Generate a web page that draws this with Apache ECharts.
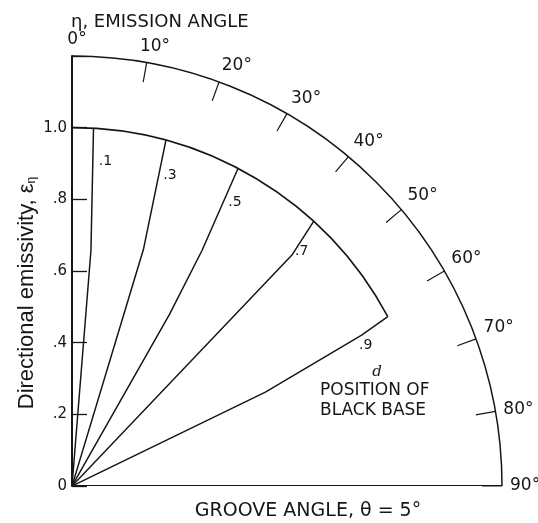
<!DOCTYPE html>
<html>
<head>
<meta charset="utf-8">
<script src="https://cdn.jsdelivr.net/npm/echarts@6/dist/echarts.min.js"></script>
<style>
  html, body { margin: 0; padding: 0; background: #ffffff; }
  #chart { width: 538px; height: 523px; }
</style>
</head>
<body>
<div id="chart"></div>
<script>
// Emission angle (degrees) marked on the outer arc
const emissionAngles = [0, 10, 20, 30, 40, 50, 60, 70, 80, 90];
// Directional emissivity ticks along the vertical axis
const emissivityTicks = [0, 0.2, 0.4, 0.6, 0.8, 1.0, 1.2];
const emissivityLabels = ['0', '.2', '.4', '.6', '.8', '1.0', ''];

// Black-body envelope: emissivity 1.0 from normal out to the cut-off angle
const envelopeEmissivity = 1.0;
const envelopeFrom = 0;
const envelopeTo = 61.8;

// Emissivity lines for each position d of the black base: [emissivity, emission angle]
const dNames = ['.1', '.3', '.5', '.7', '.9'];
const dLine1 = [[0, 4.6], [0.66, 4.6], [1.0, 3.44]];
const dLine3 = [[0, 16.8], [0.69, 16.8], [1.0, 15.2]];
const dLine5 = [[0, 29.8], [0.55, 29.6], [0.75, 28.9], [1.0, 27.6]];
const dLine7 = [[0, 44.2], [0.89, 43.6], [1.0, 42.4]];
const dLine9 = [[0, 64.5], [0.6, 64.1], [0.91, 62.5], [1.0, 61.8]];
const dLines = [dLine1, dLine3, dLine5, dLine7, dLine9];
// where each d label sits relative to the top end of its line
const dLabelOffsets = [[12, 33], [4, 35], [-3, 34], [-12, 30], [-22, 29]];

const ink = '#161616';
const LETTER = '"DejaVu Sans", sans-serif';

const chart = echarts.init(document.getElementById('chart'), null, { renderer: 'canvas' });

const dSeries = dLines.map((pts, i) => ({
  type: 'line',
  coordinateSystem: 'polar',
  symbol: 'circle',
  symbolSize: 0,
  showSymbol: true,
  silent: true,
  lineStyle: { color: ink, width: 1.5 },
  itemStyle: { color: ink },
  label: { show: false },
  data: pts.map((p, j) => j === pts.length - 1
    ? {
        value: p,
        label: {
          show: true,
          formatter: dNames[i],
          position: 'inside',
          offset: dLabelOffsets[i],
          color: ink,
          fontFamily: LETTER,
          fontSize: 14
        }
      }
    : p)
}));

chart.setOption({
  animation: false,
  backgroundColor: '#ffffff',
  title: {
    text: 'η, EMISSION ANGLE',
    left: 66,
    top: 8,
    textStyle: { color: ink, fontFamily: LETTER, fontSize: 18, fontWeight: 'normal' }
  },
  polar: { center: [72, 486], radius: 430 },
  angleAxis: {
    type: 'value',
    min: 0,
    max: 90,
    interval: 10,
    startAngle: 90,
    endAngle: 0,
    clockwise: true,
    axisLine: { show: true, lineStyle: { color: ink, width: 1.5 } },
    axisTick: { show: true, inside: true, length: 20, lineStyle: { color: ink, width: 1.2 } },
    axisLabel: {
      show: true,
      margin: 8,
      color: ink,
      fontFamily: LETTER,
      fontSize: 17,
      formatter: v => {
        if (!emissionAngles.includes(v)) return '';
        if (v === 0) return '{p0|0°}';
        if (v === 10) return '{p10|10°}';
        return v + '°';
      },
      rich: {
        p0: { fontFamily: LETTER, fontSize: 17, color: ink, padding: [0, 0, 0, 10] },
        p10: { fontFamily: LETTER, fontSize: 17, color: ink, padding: [0, 0, 0, 14] }
      }
    },
    splitLine: { show: false }
  },
  radiusAxis: {
    type: 'value',
    min: 0,
    max: 1.2,
    interval: 0.2,
    axisLine: { show: true, lineStyle: { color: ink, width: 2 } },
    // negative length turns the ticks towards the plot side
    axisTick: { show: true, length: -15, lineStyle: { color: ink, width: 1.3 } },
    axisLabel: {
      show: true,
      margin: 5,
      color: ink,
      fontFamily: LETTER,
      fontSize: 15,
      formatter: v => {
        const k = emissivityTicks.findIndex(t => Math.abs(t - v) < 1e-6);
        return k >= 0 ? emissivityLabels[k] : '';
      }
    },
    splitLine: { show: false }
  },
  graphic: [
    {
      type: 'text',
      x: 27,
      y: 293,
      rotation: Math.PI / 2,
      style: {
        text: '{a|Directional emissivity, ε}{s|η}',
        textAlign: 'center',
        textVerticalAlign: 'middle',
        fill: ink,
        rich: {
          a: { fontFamily: '"Liberation Sans", Arial, sans-serif', fontSize: 22, fill: ink },
          s: { fontFamily: '"Liberation Sans", Arial, sans-serif', fontSize: 12, fill: ink, verticalAlign: 'bottom', padding: [10, 0, 0, 0] }
        }
      }
    },
    {
      type: 'text',
      x: 377,
      y: 372,
      style: {
        text: 'd',
        textAlign: 'center',
        textVerticalAlign: 'middle',
        fill: ink,
        font: 'italic 15px "DejaVu Serif", serif'
      }
    },
    {
      type: 'text',
      x: 320,
      y: 381,
      style: {
        text: 'POSITION OF\nBLACK BASE',
        textAlign: 'left',
        textVerticalAlign: 'top',
        fill: ink,
        font: '17px ' + LETTER,
        lineHeight: 20
      }
    },
    {
      type: 'text',
      x: 308,
      y: 511,
      style: {
        text: 'GROOVE ANGLE, θ = 5°',
        textAlign: 'center',
        textVerticalAlign: 'middle',
        fill: ink,
        font: '19px ' + LETTER
      }
    }
  ],
  series: [
    {
      // baseline along 90°
      type: 'line',
      coordinateSystem: 'polar',
      showSymbol: false,
      silent: true,
      lineStyle: { color: ink, width: 2 },
      data: [[0, 90], [1.2, 90]]
    },
    {
      // emissivity envelope arc
      type: 'custom',
      coordinateSystem: 'polar',
      silent: true,
      data: [[envelopeEmissivity, envelopeFrom]],
      renderItem: (params, api) => {
        const c = api.coord([0, 0]);
        const p0 = api.coord([envelopeEmissivity, envelopeFrom]);
        const p1 = api.coord([envelopeEmissivity, envelopeTo]);
        const r = Math.hypot(p0[0] - c[0], p0[1] - c[1]);
        return {
          type: 'arc',
          shape: {
            cx: c[0], cy: c[1], r: r,
            startAngle: Math.atan2(p0[1] - c[1], p0[0] - c[0]),
            endAngle: Math.atan2(p1[1] - c[1], p1[0] - c[0]),
            clockwise: true
          },
          style: { stroke: ink, fill: null, lineWidth: 1.6 }
        };
      }
    },
    ...dSeries
  ]
});
</script>
</body>
</html>
